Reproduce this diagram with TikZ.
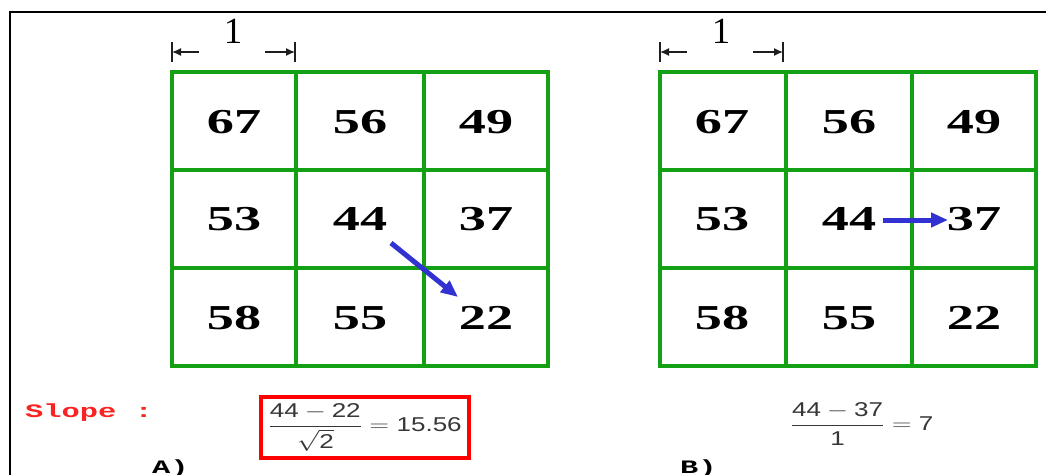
\documentclass[tikz,border=0pt]{standalone}
\usepackage{amsmath}
\usepackage{fontspec}
\setmainfont{Liberation Serif}
\newfontfamily\monob{Liberation Mono}
\newfontfamily\formf{Liberation Sans}
\usetikzlibrary{arrows.meta}
\definecolor{gridgreen}{RGB}{20,160,20}
\definecolor{arrowblue}{RGB}{50,50,210}
\definecolor{slopered}{RGB}{250,35,35}
\definecolor{formgray}{RGB}{55,55,55}
\definecolor{dimgray}{RGB}{30,30,30}
\newcommand{\numtxt}[1]{\scalebox{1.55}[1]{\fontsize{35}{35}\selectfont\bfseries #1}}
\newcommand{\labtxt}[1]{\scalebox{1.6}[1]{\fontsize{19}{19}\selectfont\monob\bfseries #1}}
\newcommand{\ftxt}[1]{\text{\formf #1}}
\begin{document}
\begin{tikzpicture}[x=1pt,y=-1pt,
  gridline/.style={gridgreen,line width=4pt,line cap=rect},
  cellnum/.style={inner sep=0pt},
  dimtick/.style={dimgray,line width=2pt},
  dimarrow/.style={dimgray,line width=1.4pt,-{Latex[length=9pt,width=8pt]}},
  dimlabel/.style={inner sep=0pt,font=\fontsize{37}{37}\selectfont},
  slopearrow/.style={arrowblue,line width=5pt,-{Triangle[length=17pt,width=14pt]}},
  formula/.style={inner sep=0pt,text=formgray},
  caption/.style={inner sep=0pt,anchor=base west}]
\useasboundingbox (0,0) rectangle (1046,474);
\fill[white] (0,0) rectangle (1046,474);
% frame
\draw[line width=2pt] (10,480) -- (10,12) -- (1050,12);

% ---------- grid A ----------
\foreach \x in {172,296,424,548} \draw[gridline] (\x,72) -- (\x,366);
\foreach \y in {72,170,268,366} \draw[gridline] (172,\y) -- (548,\y);
\node[cellnum] (a11) at (234,122) {\numtxt{67}};
\node[cellnum] (a12) at (360,122) {\numtxt{56}};
\node[cellnum] (a13) at (486,122) {\numtxt{49}};
\node[cellnum] (a21) at (234,219) {\numtxt{53}};
\node[cellnum] (a22) at (360,219) {\numtxt{44}};
\node[cellnum] (a23) at (486,219) {\numtxt{37}};
\node[cellnum] (a31) at (234,318) {\numtxt{58}};
\node[cellnum] (a32) at (360,318) {\numtxt{55}};
\node[cellnum] (a33) at (486,318) {\numtxt{22}};
\coordinate (aS) at (391,243);
\coordinate (aE) at (458,297);
\draw[slopearrow] (aS) -- (aE);

% dimension A
\draw[dimtick] (172,42) -- (172,62);
\draw[dimtick] (295,42) -- (295,62);
\coordinate (adl) at (172,52);
\coordinate (adr) at (295,52);
\coordinate (adl2) at (199,52);
\coordinate (adr2) at (265,52);
\draw[dimarrow] (adl2) -- (adl);
\draw[dimarrow] (adr2) -- (adr);
\node[dimlabel] (adim) at (233,31) {1};

% ---------- grid B ----------
\foreach \x in {660,786,912,1036} \draw[gridline] (\x,72) -- (\x,366);
\foreach \y in {72,170,268,366} \draw[gridline] (660,\y) -- (1036,\y);
\node[cellnum] (b11) at (722,122) {\numtxt{67}};
\node[cellnum] (b12) at (849,122) {\numtxt{56}};
\node[cellnum] (b13) at (974,122) {\numtxt{49}};
\node[cellnum] (b21) at (722,219) {\numtxt{53}};
\node[cellnum] (b22) at (849,219) {\numtxt{44}};
\node[cellnum] (b23) at (974,219) {\numtxt{37}};
\node[cellnum] (b31) at (722,318) {\numtxt{58}};
\node[cellnum] (b32) at (849,318) {\numtxt{55}};
\node[cellnum] (b33) at (974,318) {\numtxt{22}};
\coordinate (bS) at (883,220);
\coordinate (bE) at (948,220);
\draw[slopearrow] (bS) -- (bE);

% dimension B
\draw[dimtick] (660,42) -- (660,62);
\draw[dimtick] (783,42) -- (783,62);
\coordinate (bdl) at (660,52);
\coordinate (bdr) at (783,52);
\coordinate (bdl2) at (687,52);
\coordinate (bdr2) at (753,52);
\draw[dimarrow] (bdl2) -- (bdl);
\draw[dimarrow] (bdr2) -- (bdr);
\node[dimlabel] (bdim) at (721,31) {1};

% ---------- bottom texts ----------
\node[caption,text=slopered] (slope) at (25,417) {\labtxt{Slope :}};
\node[formula,draw=red,line width=4pt,minimum width=208pt,minimum height=61pt] (fa) at (365,427.5)
  {\scalebox{1.3}[1]{\fontsize{20}{20}\selectfont$\dfrac{\ftxt{44} - \ftxt{22}}{\sqrt{\ftxt{2}}} = \ftxt{15.56}$}};
\node[formula] (fb) at (862,424)
  {\scalebox{1.3}[1]{\fontsize{20}{20}\selectfont$\dfrac{\ftxt{44} - \ftxt{37}}{\ftxt{1}} = \ftxt{7}$}};
\node[caption] (la) at (152,473) {\labtxt{A)}};
\node[caption] (lb) at (680,473) {\labtxt{B)}};
\end{tikzpicture}
\end{document}
